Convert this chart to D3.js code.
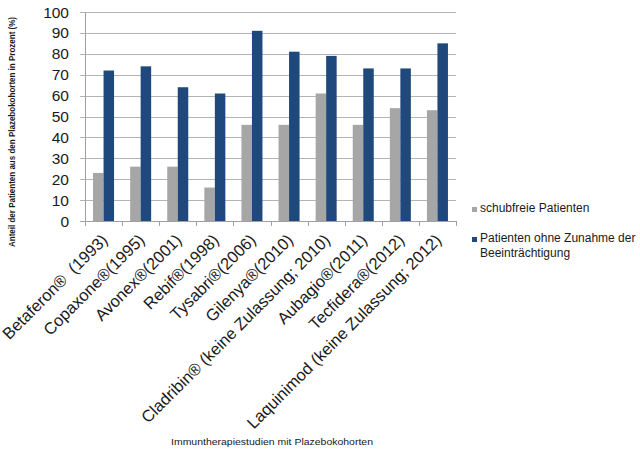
<!DOCTYPE html>
<html><head><meta charset="utf-8">
<script src="https://cdn.jsdelivr.net/npm/d3@7"></script>
<style>body{margin:0;background:#fff}svg{display:block;font-family:"Liberation Sans",Arial,sans-serif}</style>
</head><body><svg id="c" width="640" height="455"></svg>
<script>
const categories = ["Betaferon®\u00a0\u00a0(1993)","Copaxone®(1995)","Avonex®(2001)","Rebif®(1998)","Tysabri®(2006)","Gilenya®(2010)","Cladribin® (keine Zulassung; 2010)","Aubagio®(2011)","Tecfidera®(2012)","Laquinimod (keine Zulassung; 2012)"];
const seriesNames = ["schubfreie Patienten","Patienten ohne Zunahme der Beeinträchtigung"];
const schubfrei = [23,26,26,16,46,46,61,46,54,53];
const ohneZunahme = [72,74,64,61,91,81,79,73,73,85];
const yTicks = [0,10,20,30,40,50,60,70,80,90,100];
const colors = ["#a6a6a6","#1f497d"];

const svg = d3.select("#c");
const L=85,R=456,T=12,B=221;
const x0 = d3.scaleBand().domain(categories).range([L,R]).padding(0);
const x1 = d3.scaleBand().domain([0,1]).range([0,x0.bandwidth()]).paddingInner(0).paddingOuter(0.766);
const y = d3.scaleLinear().domain([0,100]).range([B,T]);

// gridlines
svg.append("g").selectAll("line").data(yTicks).join("line")
 .attr("x1",L-5).attr("x2",R).attr("y1",d=>Math.round(y(d))+0.5).attr("y2",d=>Math.round(y(d))+0.5)
 .attr("stroke",d=>d===0?"#a0a0a0":"#b4b4b4").attr("stroke-width",1);
// y axis line
svg.append("line").attr("x1",L+0.5).attr("x2",L+0.5).attr("y1",T).attr("y2",B+0.5).attr("stroke","#a0a0a0");
// y labels
svg.append("g").selectAll("text").data(yTicks).join("text")
 .attr("x",69).attr("y",d=>y(d)).attr("dy","0.36em").attr("text-anchor","end")
 .attr("font-size","15.5px").attr("fill","#1a1a1a").text(d=>d);
// x ticks
const bounds = categories.map(c=>x0(c)).concat([R]);
svg.append("g").selectAll("line").data(bounds).join("line")
 .attr("x1",d=>Math.round(d)+0.5).attr("x2",d=>Math.round(d)+0.5).attr("y1",B).attr("y2",B+5).attr("stroke","#a0a0a0");

// bars
const data = categories.map((c,i)=>({c,v:[schubfrei[i],ohneZunahme[i]]}));
const g = svg.append("g").selectAll("g").data(data).join("g").attr("transform",d=>`translate(${x0(d.c)},0)`);
g.selectAll("rect").data(d=>d.v.map((v,k)=>({v,k}))).join("rect")
 .attr("x",d=>x1(d.k)).attr("width",x1.bandwidth())
 .attr("y",d=>y(d.v)).attr("height",d=>B-y(d.v)).attr("fill",d=>colors[d.k]);

// x labels
svg.append("g").selectAll("text").data(categories).join("text")
 .attr("transform",d=>`translate(${x0(d)+x0.bandwidth()/2+5},241) rotate(-45)`)
 .attr("text-anchor","end").attr("font-size","16.5px").attr("fill","#1a1a1a").text(d=>d);

// y title
svg.append("text").attr("transform","translate(15,132) rotate(-90)").attr("text-anchor","middle")
 .attr("font-size","8.5px").attr("font-weight","bold").attr("fill","#1a1a1a")
 .attr("textLength",230).attr("lengthAdjust","spacingAndGlyphs")
 .text("Anteil der Patienten aus den Plazebokohorten in Prozent (%)");
// x title
svg.append("text").attr("x",272).attr("y",445).attr("text-anchor","middle")
 .attr("font-size","9.5px").attr("fill","#1a1a1a")
 .attr("textLength",202).attr("lengthAdjust","spacingAndGlyphs")
 .text("Immuntherapiestudien mit Plazebokohorten");

// legend
const leg = svg.append("g");
leg.append("rect").attr("x",472).attr("y",207).attr("width",5).attr("height",5).attr("fill",colors[0]);
leg.append("text").attr("x",480).attr("y",212).attr("font-size","12px").attr("fill","#1a1a1a").text(seriesNames[0]);
leg.append("rect").attr("x",472).attr("y",237).attr("width",5).attr("height",5).attr("fill",colors[1]);
leg.append("text").attr("x",480).attr("y",242).attr("font-size","12px").attr("fill","#1a1a1a").text("Patienten ohne Zunahme der");
leg.append("text").attr("x",480).attr("y",257).attr("font-size","12px").attr("fill","#1a1a1a").text("Beeinträchtigung");
</script></body></html>
